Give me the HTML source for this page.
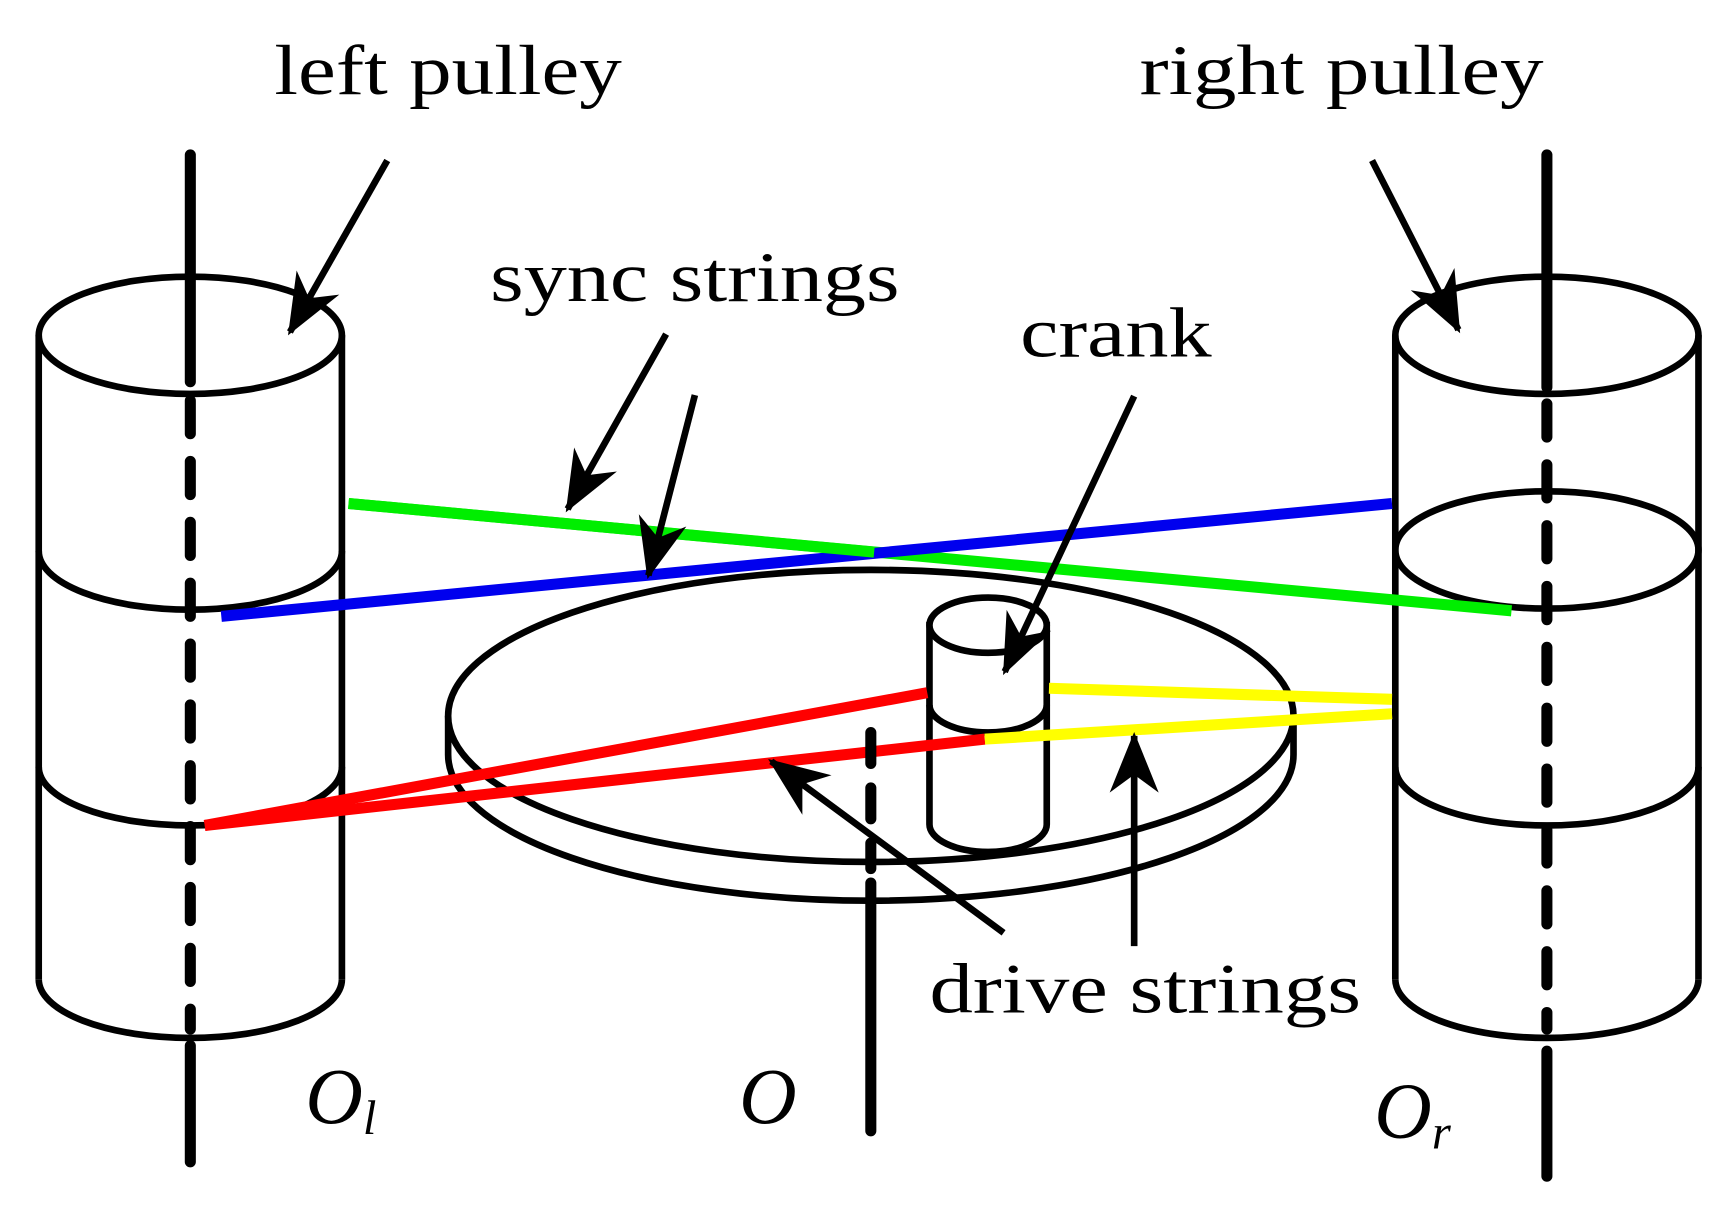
<!DOCTYPE html>
<html><head><meta charset="utf-8"><style>html,body{margin:0;padding:0;background:#fff}svg{display:block}</style></head>
<body>
<svg width="1735" height="1210" viewBox="0 0 1568 1093.5" xmlns="http://www.w3.org/2000/svg">
<defs>
<marker id="ah" markerUnits="userSpaceOnUse" markerWidth="70" markerHeight="70" viewBox="-50 -25 60 50" refX="0" refY="0" orient="auto">
<path d="M3,0 L-44,-19 L-30,0 L-44,19 Z" fill="#000"/>
</marker>
</defs>
<rect width="1568" height="1094" fill="#fff"/>
<g fill="none" stroke="#000" stroke-width="6">
<ellipse cx="172" cy="303" rx="137" ry="53"/>
<line x1="35" y1="303" x2="35" y2="885"/><line x1="309" y1="303" x2="309" y2="885"/>
<path d="M35,498 A137,53 0 0 0 309,498"/>
<path d="M35,693 A137,53 0 0 0 309,693"/>
<path d="M35,885 A137,53 0 0 0 309,885"/>
<ellipse cx="1398" cy="303" rx="137" ry="53"/>
<ellipse cx="1398" cy="497" rx="137" ry="53"/>
<line x1="1261" y1="303" x2="1261" y2="885"/><line x1="1535" y1="303" x2="1535" y2="885"/>
<path d="M1261,693 A137,53 0 0 0 1535,693"/>
<path d="M1261,885 A137,53 0 0 0 1535,885"/>
<ellipse cx="787" cy="647" rx="382" ry="132"/>
<path d="M405,647 L405,682 A382,132 0 0 0 1169,682 L1169,647"/>
</g>
<g stroke-width="10" fill="none">
<line x1="315" y1="455" x2="1366" y2="552" stroke="#00ee00"/>
<line x1="200" y1="557" x2="1258" y2="455" stroke="#0000ee"/>
<line x1="315" y1="455" x2="790" y2="499" stroke="#00ee00"/>
</g>
<g fill="#fff" stroke="#000" stroke-width="6">
<path d="M840,565 L840,745 A53,25 0 0 0 946,745 L946,565 Z"/>
<ellipse cx="893" cy="565" rx="53" ry="25"/>
<path d="M840,637 A53,25 0 0 0 946,637" fill="none"/>
</g>
<g stroke-width="10" fill="none">
<line x1="185" y1="746" x2="838" y2="626" stroke="#ff0000"/>
<line x1="185" y1="746" x2="890" y2="668" stroke="#ff0000"/>
<line x1="948" y1="622" x2="1258" y2="632" stroke="#ffff00"/>
<line x1="890" y1="668" x2="1258" y2="645" stroke="#ffff00"/>
</g>
<g stroke="#000" stroke-width="10" stroke-linecap="round" fill="none">
<line x1="172" y1="140" x2="172" y2="345"/>
<line x1="172" y1="362" x2="172" y2="930" stroke-dasharray="30 25"/>
<line x1="172" y1="945" x2="172" y2="1050"/>
<line x1="1398" y1="140" x2="1398" y2="350"/>
<line x1="1398" y1="365" x2="1398" y2="930" stroke-dasharray="30 25"/>
<line x1="1398" y1="950" x2="1398" y2="1063"/>
<line x1="787" y1="662" x2="787" y2="785" stroke-dasharray="28 22"/>
<line x1="787" y1="798" x2="787" y2="1022"/>
</g>
<g stroke="#000" stroke-width="6" fill="none" marker-end="url(#ah)">
<line x1="350" y1="145" x2="262" y2="300"/>
<line x1="1240" y1="145" x2="1318" y2="298"/>
<line x1="602" y1="302" x2="513" y2="460"/>
<line x1="628" y1="357" x2="586" y2="520"/>
<line x1="1025" y1="358" x2="908" y2="607"/>
<line x1="907" y1="843" x2="697" y2="688"/>
<line x1="1025" y1="855" x2="1025" y2="665"/>
</g>
<g font-family="'Liberation Serif', serif" font-size="64" fill="#000">
<text x="248" y="85" textLength="314" lengthAdjust="spacingAndGlyphs">left pulley</text>
<text x="1030" y="85" textLength="365" lengthAdjust="spacingAndGlyphs">right pulley</text>
<text x="443" y="272" textLength="370" lengthAdjust="spacingAndGlyphs">sync strings</text>
<text x="922" y="322" textLength="173" lengthAdjust="spacingAndGlyphs">crank</text>
<text x="840" y="915" textLength="390" lengthAdjust="spacingAndGlyphs">drive strings</text>
<g font-style="italic">
<text x="276" y="1015" font-size="72">O</text><text x="328" y="1025" font-size="44">l</text>
<text x="668" y="1015" font-size="72">O</text>
<text x="1242" y="1028" font-size="72">O</text><text x="1294" y="1038" font-size="44">r</text>
</g>
</g>
</svg>
</body></html>
